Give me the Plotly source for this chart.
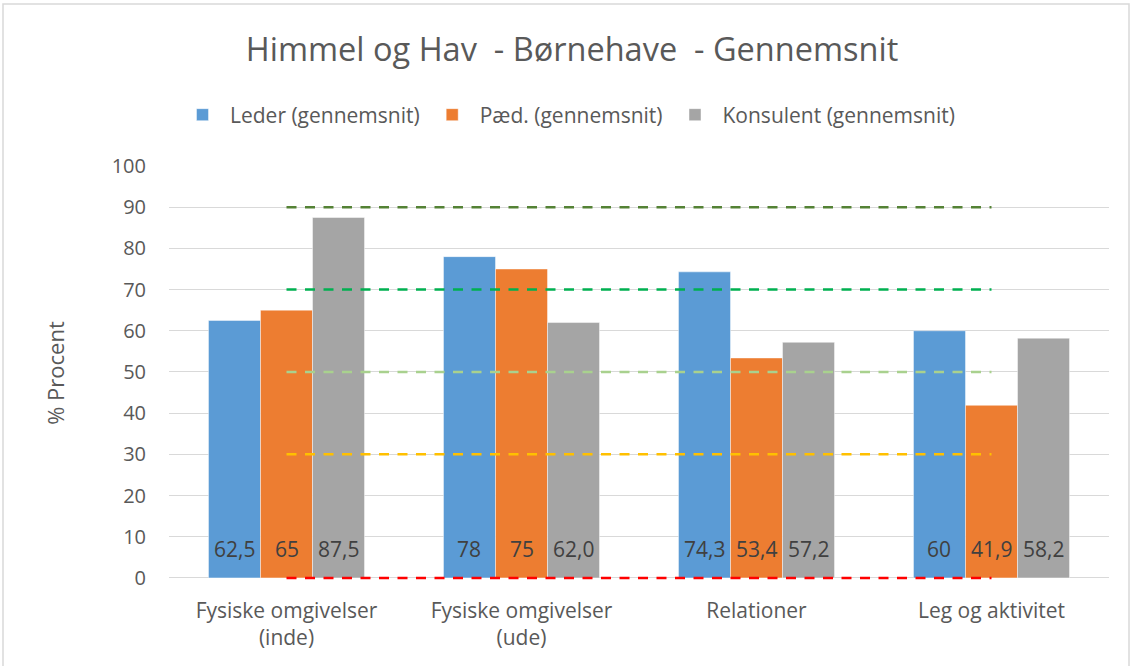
import plotly.graph_objects as go

categories = ["Fysiske omgivelser<br>(inde)", "Fysiske omgivelser<br>(ude)", "Relationer", "Leg og aktivitet"]
series_names = ["Leder (gennemsnit)", "Pæd. (gennemsnit)", "Konsulent (gennemsnit)"]
leder = [62.5, 78, 74.3, 60]
paed = [65, 75, 53.4, 41.9]
konsulent = [87.5, 62.0, 57.2, 58.2]
leder_labels = ["62,5", "78", "74,3", "60"]
paed_labels = ["65", "75", "53,4", "41,9"]
konsulent_labels = ["87,5", "62,0", "57,2", "58,2"]
thresholds = [90, 70, 50, 30, 0]
threshold_colors = ["#548235", "#00B050", "#A9D18E", "#FFC000", "#FF0000"]
y_ticks = list(range(0, 101, 10))

FONT = "Open Sans"
TXT = "#595959"
bar_colors = ["#5B9BD5", "#ED7D31", "#A5A5A5"]

W, H = 1132, 666
Y_MIN, Y_MAX = -0.5, 100
L, R, T, B = 169, 23, 166, 86
pw, ph = W - L - R, H - T - B
BARGAP = 0.336
n_series = len(series_names)
bar_px = pw / len(categories) * (1 - BARGAP) / n_series

fig = go.Figure()
all_vals = [leder, paed, konsulent]
all_labels = [leder_labels, paed_labels, konsulent_labels]
for name, vals, col in zip(series_names, all_vals, bar_colors):
    fig.add_trace(go.Bar(
        x=categories, y=vals, name=name,
        marker=dict(color=col, line=dict(color="rgba(255,255,255,0.6)", width=0.75)),
        hoverinfo="skip",
    ))

for t, c in zip(thresholds, threshold_colors):
    fig.add_trace(go.Scatter(
        x=categories, y=[t] * len(categories), mode="lines",
        line=dict(color=c, width=2.5, dash="10px,8.5px"),
        showlegend=False, hoverinfo="skip",
    ))

# data labels at the base of each bar
for i, labs in enumerate(all_labels):
    for cat, lab in zip(categories, labs):
        fig.add_annotation(
            x=cat, y=0, xref="x", yref="y", text=lab, showarrow=False,
            xshift=(i - (n_series - 1) / 2) * bar_px, yshift=29,
            xanchor="center", yanchor="middle",
            font=dict(family=FONT, size=21, color="#404040"),
        )

def px_x(p):
    return (p - L) / pw

def px_y(p):
    return (H - B - p) / ph

fig.add_shape(type="rect", xref="paper", yref="paper",
              x0=px_x(3), x1=px_x(1129), y0=px_y(720), y1=px_y(4),
              line=dict(color="#D9D9D9", width=1.5), fillcolor="rgba(0,0,0,0)", layer="below")

fig.update_layout(
    width=W, height=H,
    margin=dict(l=L, r=R, t=T, b=B),
    paper_bgcolor="white", plot_bgcolor="white",
    barmode="group", bargap=BARGAP, bargroupgap=0,
    font=dict(family=FONT, color=TXT, size=20),
    title=dict(text="Himmel og Hav\u00a0\u00a0- Børnehave\u00a0\u00a0- Gennemsnit",
               x=572 / W, xref="container", xanchor="center",
               y=1 - 50 / H, yref="container", yanchor="middle",
               font=dict(family=FONT, size=32.5, color=TXT)),
    legend=dict(orientation="h", x=175 / W, xref="container", xanchor="left",
                y=1 - 115 / H, yref="container", yanchor="middle",
                font=dict(family=FONT, size=21, color=TXT),
                itemwidth=45),
    showlegend=True,
)
fig.update_yaxes(range=[Y_MIN, Y_MAX], tickvals=y_ticks, showgrid=True, gridcolor="#D9D9D9", gridwidth=1.2,
                 zeroline=False, showline=False, ticks="", ticklabelstandoff=22,
                 tickfont=dict(family=FONT, size=20, color=TXT),
                 title=dict(text="% Procent", standoff=40, font=dict(family=FONT, size=22, color=TXT)),
                 automargin=False)
fig.update_xaxes(showline=False, ticks="", ticklabelstandoff=16,
                 tickfont=dict(family=FONT, size=21, color=TXT), automargin=False)

fig.write_html("out.html", config={"displayModeBar": False},
               post_script="document.body.style.margin='0';document.body.style.overflow='hidden';")
